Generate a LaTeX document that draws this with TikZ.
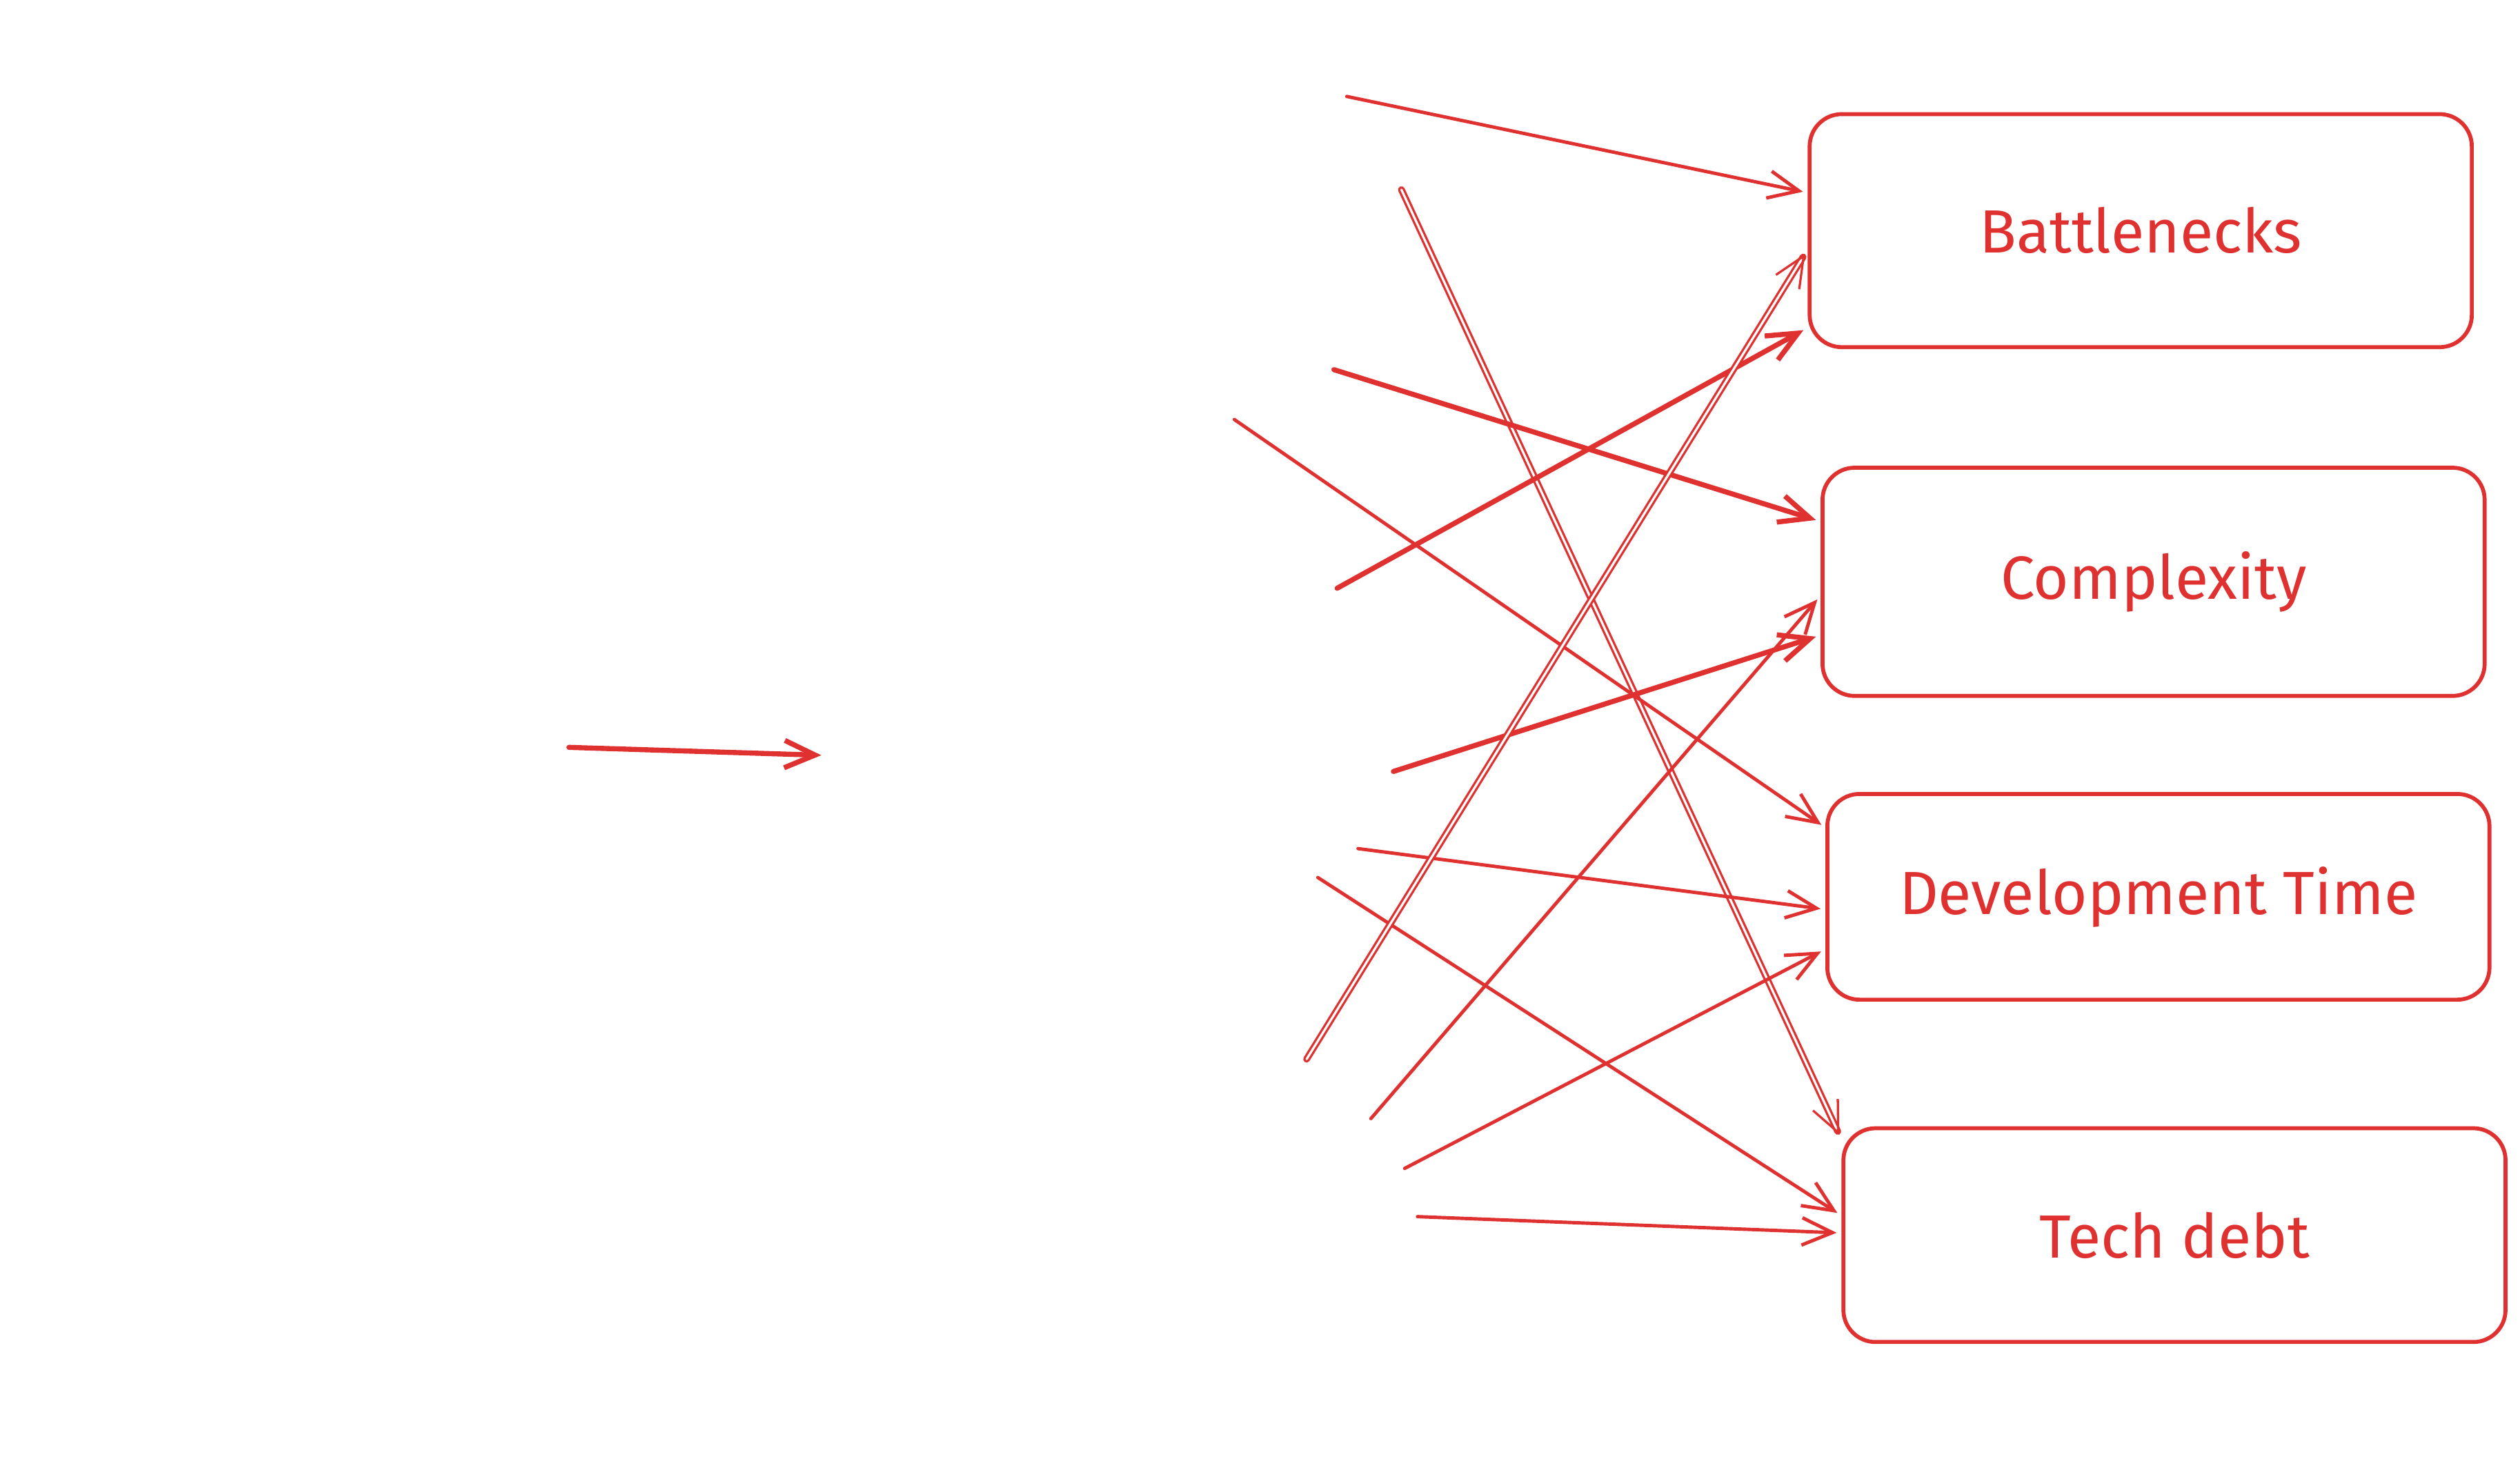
\documentclass[tikz,border=0pt]{standalone}
\usepackage{fontspec}
\setmainfont{Fira Sans}
\usetikzlibrary{arrows.meta,calc}
\definecolor{sketchred}{HTML}{E03131}
\tikzset{
  box/.style={draw=sketchred,line width=0.7pt,rounded corners=2mm,minimum width=41.2mm,
    text=sketchred,font=\fontsize{10.8}{13}\selectfont},
  link/.style={draw=sketchred,line width=0.6pt,->,shorten >=0.3mm},
  boldlink/.style={draw=sketchred,line width=0.9pt,->,shorten >=0.3mm},
  twinlink/.style={draw=sketchred,line width=0.4pt,double=white,double distance=0.14mm,->,shorten >=0.3mm},
}
\begin{document}
\begin{tikzpicture}[x=0.1mm,y=-0.1mm,>={Straight Barb[length=1.9mm,width=1.7mm]},line join=round,line cap=round]
                \useasboundingbox (0,0) rectangle (1568,913);
                % the four boxes
                \node[box,minimum height=14.5mm] (bn) at (1332,143.5) {Battlenecks};
                \node[box,minimum height=14.2mm] (cx) at (1340,362) {Complexity};
                \node[box,minimum height=12.8mm] (dt) at (1343,558) {Development Time};
                \node[box,minimum height=13.3mm] (td) at (1353,768.5) {Tech debt};
                % arrows: name/start x/start y/box/where on its left side/style
                \foreach \n/\x/\y/\t/\f/\s in {
                    a1/838/60/bn/0.34/link,
                    a2/872/118/td/0.06/twinlink,
                    a3/830/230/cx/0.24/boldlink,
                    a4/768/261/dt/0.17/link,
                    a5/832/366/bn/0.91/boldlink,
                    a6/867/480/cx/0.73/boldlink,
                    a7/845/528/dt/0.56/link,
                    a8/820/546/td/0.41/link,
                    a9/813/659/bn/0.58/twinlink,
                    a10/853/696/cx/0.56/link,
                    a11/874/727/dt/0.75/link,
                    a12/882/757/td/0.49/link}
                {
                    \coordinate (\n) at (\x,\y);
                    \draw[\s] (\n) -- ($(\t.north west)!\f!(\t.south west)$);
                }
                % lone arrow on the left
                \coordinate (l0) at (354,465);
                \coordinate (l1) at (514,470);
                \draw[boldlink] (l0) -- (l1);
\end{tikzpicture}
\end{document}
